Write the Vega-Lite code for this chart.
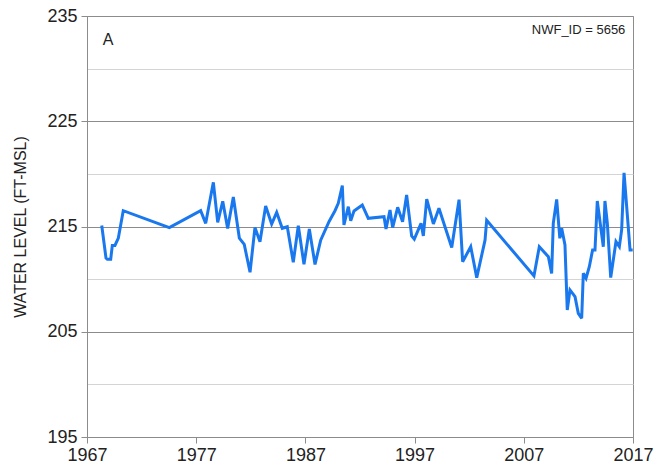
{
  "$schema": "https://vega.github.io/schema/vega-lite/v6.json",
  "width": 546,
  "height": 421,
  "autosize": {"type": "none"},
  "padding": {"left": 87, "top": 16, "right": 21, "bottom": 35},
  "background": "white",
  "config": {
    "font": "Liberation Sans",
    "view": {"stroke": "#8c8c8c", "strokeWidth": 1}
  },
  "datasets": {
    "levels": [
      {"year": 1968.35, "level": 215.1},
      {"year": 1968.74, "level": 212.0},
      {"year": 1968.86, "level": 211.9},
      {"year": 1969.17, "level": 211.9},
      {"year": 1969.32, "level": 213.2},
      {"year": 1969.56, "level": 213.2},
      {"year": 1969.87, "level": 213.9},
      {"year": 1970.32, "level": 216.5},
      {"year": 1974.54, "level": 214.9},
      {"year": 1977.41, "level": 216.5},
      {"year": 1977.87, "level": 215.3},
      {"year": 1978.57, "level": 219.2},
      {"year": 1978.97, "level": 215.4},
      {"year": 1979.43, "level": 217.4},
      {"year": 1979.88, "level": 214.8},
      {"year": 1980.4, "level": 217.8},
      {"year": 1980.95, "level": 213.9},
      {"year": 1981.4, "level": 213.3},
      {"year": 1981.93, "level": 210.65},
      {"year": 1982.38, "level": 214.9},
      {"year": 1982.84, "level": 213.56},
      {"year": 1983.36, "level": 216.95},
      {"year": 1983.91, "level": 215.24},
      {"year": 1984.37, "level": 216.35},
      {"year": 1984.88, "level": 214.83},
      {"year": 1985.34, "level": 214.98},
      {"year": 1985.89, "level": 211.6},
      {"year": 1986.35, "level": 215.08},
      {"year": 1986.87, "level": 211.4},
      {"year": 1987.36, "level": 214.76},
      {"year": 1987.88, "level": 211.4},
      {"year": 1988.4, "level": 213.7},
      {"year": 1989.16, "level": 215.46},
      {"year": 1989.71, "level": 216.5},
      {"year": 1990.01, "level": 217.2},
      {"year": 1990.38, "level": 218.88},
      {"year": 1990.53, "level": 215.14},
      {"year": 1990.93, "level": 216.88},
      {"year": 1991.15, "level": 215.55},
      {"year": 1991.45, "level": 216.47},
      {"year": 1992.21, "level": 217.04},
      {"year": 1992.76, "level": 215.78},
      {"year": 1994.2, "level": 215.93},
      {"year": 1994.38, "level": 214.76},
      {"year": 1994.75, "level": 216.57},
      {"year": 1994.99, "level": 214.9},
      {"year": 1995.45, "level": 216.82},
      {"year": 1995.9, "level": 215.46},
      {"year": 1996.27, "level": 218.0},
      {"year": 1996.73, "level": 214.1},
      {"year": 1996.97, "level": 213.8},
      {"year": 1997.59, "level": 215.3},
      {"year": 1997.8, "level": 214.1},
      {"year": 1998.11, "level": 217.6},
      {"year": 1998.72, "level": 215.24},
      {"year": 1999.23, "level": 216.73},
      {"year": 2000.4, "level": 213.0},
      {"year": 2001.07, "level": 217.55},
      {"year": 2001.4, "level": 211.65},
      {"year": 2002.14, "level": 213.08},
      {"year": 2002.69, "level": 210.14},
      {"year": 2003.45, "level": 213.7},
      {"year": 2003.6, "level": 215.6},
      {"year": 2007.93, "level": 210.3},
      {"year": 2008.42, "level": 213.08},
      {"year": 2009.25, "level": 212.13},
      {"year": 2009.55, "level": 210.55},
      {"year": 2009.7, "level": 215.3},
      {"year": 2010.01, "level": 217.58},
      {"year": 2010.3, "level": 213.88},
      {"year": 2010.47, "level": 214.83},
      {"year": 2010.77, "level": 213.24},
      {"year": 2010.98, "level": 207.07},
      {"year": 2011.23, "level": 208.97},
      {"year": 2011.69, "level": 208.33},
      {"year": 2011.99, "level": 206.75},
      {"year": 2012.3, "level": 206.28},
      {"year": 2012.45, "level": 210.55},
      {"year": 2012.7, "level": 210.08},
      {"year": 2013.0, "level": 211.18},
      {"year": 2013.3, "level": 212.77},
      {"year": 2013.52, "level": 212.77},
      {"year": 2013.73, "level": 217.42},
      {"year": 2014.28, "level": 213.08},
      {"year": 2014.43, "level": 217.42},
      {"year": 2014.65, "level": 215.3},
      {"year": 2014.96, "level": 210.14},
      {"year": 2015.44, "level": 213.56},
      {"year": 2015.75, "level": 213.08},
      {"year": 2015.96, "level": 214.67},
      {"year": 2016.18, "level": 220.1},
      {"year": 2016.73, "level": 212.77},
      {"year": 2016.97, "level": 212.77}
    ],
    "notes": [
      {"year": 1968.45, "level": 232.7, "label": "A", "kind": "panel"},
      {"year": 2016.3, "level": 233.7, "label": "NWF_ID = 5656", "kind": "id"}
    ]
  },
  "layer": [
    {
      "data": {"name": "levels"},
      "mark": {"type": "line", "color": "#1a78ee", "strokeWidth": 3, "strokeJoin": "miter", "strokeMiterLimit": 3},
      "encoding": {
        "x": {
          "field": "year", "type": "quantitative",
          "scale": {"domain": [1967, 2017], "nice": false, "zero": false},
          "axis": {
            "values": [1967, 1977, 1987, 1997, 2007, 2017],
            "format": "d",
            "title": null,
            "grid": false,
            "domainColor": "#8c8c8c",
            "tickColor": "#8c8c8c",
            "tickSize": 6,
            "labelFontSize": 18,
            "labelColor": "#222",
            "labelPadding": 3,
            "labelFlush": false,
            "labelOverlap": false
          }
        },
        "y": {
          "field": "level", "type": "quantitative",
          "scale": {"domain": [195, 235], "nice": false, "zero": false},
          "axis": {
            "values": [195, 200, 205, 210, 215, 220, 225, 230, 235],
            "labelExpr": "datum.value % 10 == 5 ? datum.label : ''",
            "title": "WATER LEVEL (FT-MSL)",
            "titleFontSize": 16,
            "titleFontWeight": "normal",
            "titleColor": "#222",
            "titlePadding": 18,
            "grid": true,
            "gridColor": {"condition": {"test": "datum.value % 10 == 0", "value": "#d4d4d4"}, "value": "#8c8c8c"},
            "gridWidth": 1.2,
            "domainColor": "#8c8c8c",
            "tickColor": "#8c8c8c",
            "tickOpacity": {"condition": {"test": "datum.value % 10 == 0", "value": 0}, "value": 1},
            "tickSize": 6,
            "labelFontSize": 18,
            "labelColor": "#222",
            "labelPadding": 4,
            "labelFlush": false
          }
        }
      }
    },
    {
      "data": {"name": "notes"},
      "transform": [{"filter": "datum.kind == 'panel'"}],
      "mark": {"type": "text", "fontSize": 16, "align": "left", "baseline": "middle", "color": "#222"},
      "encoding": {
        "x": {"field": "year", "type": "quantitative"},
        "y": {"field": "level", "type": "quantitative"},
        "text": {"field": "label"}
      }
    },
    {
      "data": {"name": "notes"},
      "transform": [{"filter": "datum.kind == 'id'"}],
      "mark": {"type": "text", "fontSize": 13, "align": "right", "baseline": "middle", "color": "#222"},
      "encoding": {
        "x": {"field": "year", "type": "quantitative"},
        "y": {"field": "level", "type": "quantitative"},
        "text": {"field": "label"}
      }
    }
  ]
}
